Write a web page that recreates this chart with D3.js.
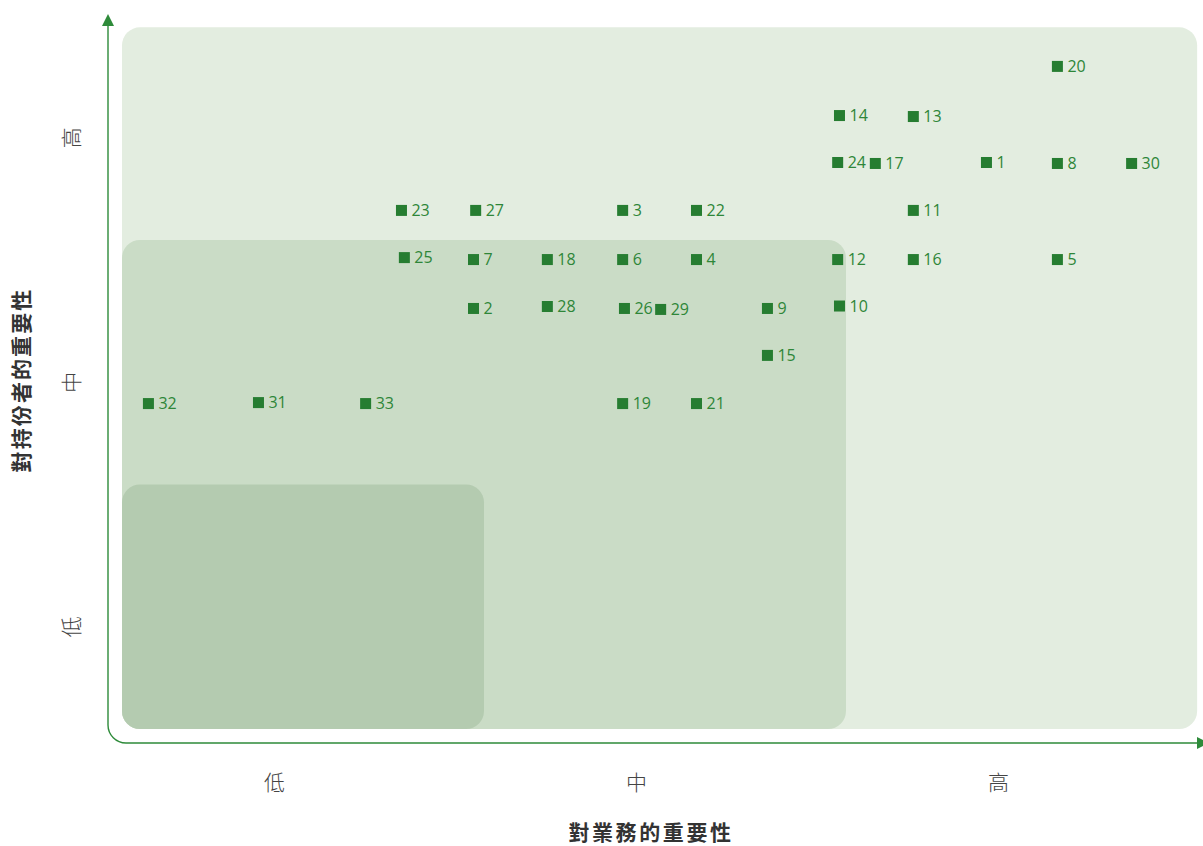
<!DOCTYPE html>
<html>
<head>
<meta charset="utf-8">
<script src="https://cdn.jsdelivr.net/npm/d3@7"></script>
<style>
    body { margin: 0; background: #fff; }
    svg { display: block; }
    .tick text { font-family: "Noto Sans CJK TC", "Noto Sans", sans-serif; font-weight: 300; fill: #444; }
</style>
</head>
<body>
<svg id="chart" width="1203" height="846"></svg>
<script>

// issue numbers, business importance (x) and stakeholder importance (y), 0..3 scale
var issues = [1, 2, 3, 4, 5, 6, 7, 8, 9, 10, 11, 12, 13, 14, 15, 16, 17, 18, 19, 20, 21, 22, 23, 24, 25, 26, 27, 28, 29, 30, 31, 32, 33];
var business = [2.388, 0.971, 1.383, 1.587, 2.584, 1.383, 0.971, 2.584, 1.783, 1.982, 2.186, 1.977, 2.186, 1.982, 1.783, 2.186, 2.081, 1.175, 1.383, 2.584, 1.587, 1.587, 0.772, 1.977, 0.780, 1.388, 0.977, 1.175, 1.488, 2.789, 0.377, 0.073, 0.673];
var stakeholder = [2.317, 1.720, 2.121, 1.920, 1.920, 1.920, 1.920, 2.313, 1.720, 1.730, 2.121, 1.920, 2.505, 2.509, 1.528, 1.920, 2.313, 1.920, 1.331, 2.710, 1.331, 2.121, 2.121, 2.317, 1.928, 1.720, 2.121, 1.728, 1.716, 2.313, 1.335, 1.331, 1.331];

var levels = ['低', '中', '高'];
var levelTicks = [0.42, 1.42, 2.42];

// background zones: upper bound on each axis
var zoneX = [2.97, 2.0, 1.0];
var zoneY = [2.87, 2.0, 1.0];
var zoneColors = ['#e3ede0', '#cadcc6', '#b4cbb0'];

var svg = d3.select('#chart');
var green = '#267d31';

var x = d3.scaleLinear().domain([0, 3]).range([122, 1208]);
var y = d3.scaleLinear().domain([0, 3]).range([729, -4.5]);

// zones
svg.append('g').selectAll('rect')
    .data(zoneX)
    .join('rect')
    .attr('x', x(0))
    .attr('y', (d, i) => y(zoneY[i]))
    .attr('width', d => x(d) - x(0))
    .attr('height', (d, i) => y(0) - y(zoneY[i]))
    .attr('rx', 18)
    .attr('fill', (d, i) => zoneColors[i]);

// axis lines with arrows
var ax = 108, ay = 743, r = 18;
var p = d3.path();
p.moveTo(ax, 24);
p.lineTo(ax, ay - r);
p.arcTo(ax, ay, ax + r, ay, r);
p.lineTo(1198, ay);
svg.append('path')
    .attr('d', p.toString())
    .attr('fill', 'none')
    .attr('stroke', '#2e8b3a')
    .attr('stroke-width', 1.4);

svg.append('path')
    .attr('d', d3.line()([[ax, 14], [ax - 6, 26], [ax + 6, 26]]) + 'Z')
    .attr('fill', '#2e8b3a');
svg.append('path')
    .attr('d', d3.line()([[1209, ay], [1197, ay - 6], [1197, ay + 6]]) + 'Z')
    .attr('fill', '#2e8b3a');

// category ticks
var xAxis = d3.axisBottom(x)
    .tickValues(levelTicks)
    .tickFormat((d, i) => levels[i])
    .tickSize(0)
    .tickPadding(0);

svg.append('g')
    .attr('transform', 'translate(0,' + 783 + ')')
    .call(xAxis)
    .call(g => g.select('.domain').remove())
    .selectAll('text')
    .attr('dy', '0.35em')
    .attr('font-size', 21);

var yAxis = d3.axisLeft(y)
    .tickValues(levelTicks)
    .tickFormat((d, i) => levels[i])
    .tickSize(0)
    .tickPadding(0);

svg.append('g')
    .attr('transform', 'translate(' + 72 + ',0)')
    .call(yAxis)
    .call(g => g.select('.domain').remove())
    .selectAll('text')
    .attr('text-anchor', 'middle')
    .attr('x', 0)
    .attr('dy', '0.35em')
    .attr('font-size', 21)
    .attr('transform', 'rotate(-90)');

// titles
svg.append('text')
    .attr('x', 651)
    .attr('y', 834)
    .attr('text-anchor', 'middle')
    .attr('dominant-baseline', 'middle')
    .attr('font-family', '"Noto Sans CJK TC", sans-serif')
    .attr('font-weight', 600)
    .attr('font-size', 21)
    .attr('letter-spacing', 2.6)
    .attr('fill', '#333')
    .text('對業務的重要性');

svg.append('text')
    .attr('transform', 'translate(23,380) rotate(-90)')
    .attr('text-anchor', 'middle')
    .attr('dominant-baseline', 'middle')
    .attr('font-family', '"Noto Sans CJK TC", sans-serif')
    .attr('font-weight', 600)
    .attr('font-size', 21)
    .attr('letter-spacing', 2.1)
    .attr('fill', '#333')
    .text('對持份者的重要性');

// points
var pts = issues.map((id, i) => ({id: id, bx: business[i], sy: stakeholder[i]}));

var marks = svg.append('g').selectAll('g')
    .data(pts)
    .join('g')
    .attr('transform', d => 'translate(' + x(d.bx) + ',' + y(d.sy) + ')');

marks.append('rect')
    .attr('x', -5.5)
    .attr('y', -5.5)
    .attr('width', 11)
    .attr('height', 11)
    .attr('fill', green);

marks.append('text')
    .attr('x', 10)
    .attr('dy', '0.36em')
    .attr('font-family', '"Open Sans", sans-serif')
    .attr('font-size', 16)
    .attr('fill', '#2e8638')
    .text(d => d.id);

</script>
</body>
</html>
